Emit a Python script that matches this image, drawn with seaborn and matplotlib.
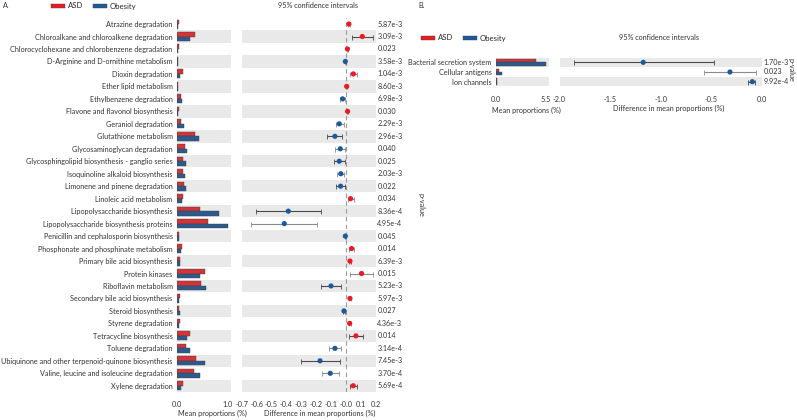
import numpy as np
import pandas as pd
import matplotlib
matplotlib.use("Agg")
import matplotlib.pyplot as plt
import seaborn as sns
from matplotlib.patches import Patch

RED = "#ec1a22"
BLUE = "#1c5a9c"
BAND = "#e9e9e9"

# panel A
pathways_a = [
    "Atrazine degradation",
    "Chloroalkane and chloroalkene degradation",
    "Chlorocyclohexane and chlorobenzene degradation",
    "D-Arginine and D-ornithine metabolism",
    "Dioxin degradation",
    "Ether lipid metabolism",
    "Ethylbenzene degradation",
    "Flavone and flavonol biosynthesis",
    "Geraniol degradation",
    "Glutathione metabolism",
    "Glycosaminoglycan degradation",
    "Glycosphingolipid biosynthesis - ganglio series",
    "Isoquinoline alkaloid biosynthesis",
    "Limonene and pinene degradation",
    "Linoleic acid metabolism",
    "Lipopolysaccharide biosynthesis",
    "Lipopolysaccharide biosynthesis proteins",
    "Penicillin and cephalosporin biosynthesis",
    "Phosphonate and phosphinate metabolism",
    "Primary bile acid biosynthesis",
    "Protein kinases",
    "Riboflavin metabolism",
    "Secondary bile acid biosynthesis",
    "Steroid biosynthesis",
    "Styrene degradation",
    "Tetracycline biosynthesis",
    "Toluene degradation",
    "Ubiquinone and other terpenoid-quinone biosynthesis",
    "Valine, leucine and isoleucine degradation",
    "Xylene degradation",
]
asd_a = [0.04, 0.35, 0.03, 0.01, 0.12, 0.01, 0.07, 0.03, 0.08, 0.35,
         0.16, 0.12, 0.12, 0.13, 0.12, 0.46, 0.61, 0.03, 0.10, 0.06,
         0.55, 0.47, 0.06, 0.04, 0.06, 0.25, 0.18, 0.38, 0.34, 0.12]
obesity_a = [0.02, 0.25, 0.02, 0.02, 0.06, 0.01, 0.10, 0.02, 0.13, 0.43,
             0.20, 0.17, 0.16, 0.17, 0.09, 0.83, 1.00, 0.04, 0.08, 0.05,
             0.46, 0.57, 0.04, 0.06, 0.04, 0.20, 0.26, 0.55, 0.45, 0.07]
diff_a = [0.020, 0.110, 0.010, -0.004, 0.050, 0.005, -0.022, 0.011, -0.045, -0.074,
          -0.038, -0.045, -0.034, -0.036, 0.031, -0.387, -0.414, -0.004, 0.038, 0.027,
          0.105, -0.100, 0.027, -0.013, 0.025, 0.067, -0.074, -0.174, -0.105, 0.049]
ci_low_a = [0.012, 0.040, 0.004, -0.008, 0.027, 0.001, -0.042, 0.005, -0.067, -0.125,
            -0.074, -0.078, -0.058, -0.069, 0.013, -0.606, -0.635, -0.008, 0.020, 0.018,
            0.027, -0.170, 0.018, -0.020, 0.018, 0.018, -0.116, -0.300, -0.161, 0.029]
ci_high_a = [0.028, 0.180, 0.016, 0.000, 0.076, 0.009, -0.007, 0.017, -0.016, -0.025,
             -0.005, -0.005, -0.011, -0.005, 0.054, -0.170, -0.193, 0.000, 0.056, 0.036,
             0.180, -0.031, 0.036, -0.006, 0.032, 0.117, -0.034, -0.042, -0.049, 0.076]
pvals_a = ["5.87e-3", "3.09e-3", "0.023", "3.58e-3", "1.04e-3", "8.60e-3", "6.98e-3",
           "0.030", "2.29e-3", "2.96e-3", "0.040", "0.025", "2.03e-3", "0.022", "0.034",
           "8.36e-4", "4.95e-4", "0.045", "0.014", "6.39e-3", "0.015", "5.23e-3",
           "5.97e-3", "0.027", "4.36e-3", "0.014", "3.14e-4", "7.45e-3", "3.70e-4",
           "5.69e-4"]

# panel B
pathways_b = ["Bacterial secretion system", "Cellular antigens", "Ion channels"]
asd_b = [4.35, 0.36, 0.10]
obesity_b = [5.55, 0.66, 0.15]
diff_b = [-1.172, -0.314, -0.093]
ci_low_b = [-1.860, -0.571, -0.133]
ci_high_b = [-0.475, -0.056, -0.063]
pvals_b = ["1.70e-3", "0.023", "9.92e-4"]

W, H = 797, 420
FS = 5.2

sns.set_theme(style="white")
plt.rcParams["font.family"] = ["Lato", "DejaVu Sans"]
plt.rcParams["axes.unicode_minus"] = False


def box(x0, y0, x1, y1):
    return [x0 / W, 1 - y1 / H, (x1 - x0) / W, (y1 - y0) / H]


def panel(fig, bar_box, ci_box, names, asd, obe, diff, lo, hi, pvals,
          bar_xmax, bar_ticks, ci_lim, ci_ticks):
    n = len(names)
    ax_bar = fig.add_axes(bar_box)
    ax_ci = fig.add_axes(ci_box)

    df = pd.DataFrame({"name": names * 2,
                       "value": list(asd) + list(obe),
                       "group": ["ASD"] * n + ["Obesity"] * n})
    sns.barplot(data=df, y="name", x="value", hue="group", ax=ax_bar,
                palette=[RED, BLUE], width=0.72, edgecolor="#404040",
                linewidth=0.3, legend=False, zorder=2)

    ypos = np.arange(n)
    for ax in (ax_bar, ax_ci):
        for i in ypos:
            if (n - 1 - i) % 2 == 0:
                ax.axhspan(i - 0.5, i + 0.5, color=BAND, lw=0, zorder=0)
        ax.set_ylim(n - 0.5, -0.5)
        for s in ax.spines.values():
            s.set_visible(False)
        ax.tick_params(axis="both", length=0, labelsize=FS, colors="#333333")
        ax.tick_params(axis="x", pad=6.5)
        ax.set_xlabel("")
        ax.set_ylabel("")

    ax_bar.set_xlim(0, bar_xmax)
    ax_bar.set_xticks(bar_ticks)
    ax_bar.set_xticklabels([f"{t:.1f}" for t in bar_ticks])
    ax_bar.tick_params(axis="y", pad=3.2)

    ax_ci.axvline(0, color="#9a9a9a", ls=(0, (4, 3)), lw=0.8, zorder=1)
    for i in ypos:
        ecol = "#4a4a4a" if (n - 1 - i) % 2 == 0 else "#8a8a8a"
        ax_ci.errorbar(diff[i], i, xerr=[[diff[i] - lo[i]], [hi[i] - diff[i]]],
                       fmt="none", ecolor=ecol, elinewidth=0.8, capsize=1.8,
                       capthick=0.6, zorder=2)
    pts = pd.DataFrame({"diff": diff, "pos": ypos,
                        "dir": ["pos" if d > 0 else "neg" for d in diff]})
    sns.scatterplot(data=pts, x="diff", y="pos", hue="dir",
                    palette={"pos": RED, "neg": BLUE}, s=14, linewidth=0,
                    legend=False, ax=ax_ci, zorder=3)
    ax_ci.set_ylim(n - 0.5, -0.5)
    ax_ci.set_xlim(*ci_lim)
    ax_ci.set_xticks(ci_ticks)
    ax_ci.set_xticklabels([f"{t:.1f}" for t in ci_ticks])
    ax_ci.set_yticks([])
    ax_ci.set_xlabel("")
    ax_ci.set_ylabel("")

    tr = ax_ci.get_yaxis_transform()
    for i, p in enumerate(pvals):
        ax_ci.text(1.012 if n > 5 else 1.01, i, p, transform=tr, ha="left",
                   va="center", fontsize=FS, color="#333333", clip_on=False)
    return ax_bar, ax_ci


fig = plt.figure(figsize=(W / 100, H / 100), dpi=100)

panel(fig, box(177, 17.8, 231, 392), box(241.7, 17.8, 375.7, 392),
      pathways_a, asd_a, obesity_a, diff_a, ci_low_a, ci_high_a, pvals_a,
      1.06, [0.0, 1.0], (-0.7, 0.2), np.round(np.arange(-0.7, 0.21, 0.1), 1))

panel(fig, box(496, 57.5, 549, 86.5), box(559.5, 57.5, 761.7, 86.5),
      pathways_b, asd_b, obesity_b, diff_b, ci_low_b, ci_high_b, pvals_b,
      5.83, [0.0, 5.5], (-2.0, 0.0), [-2.0, -1.5, -1.0, -0.5, 0.0])

txt = dict(fontsize=FS, color="#333333")


def ftext(x, y, s, **kw):
    fig.text(x / W, 1 - y / H, s, **{**txt, **kw})


ftext(3, 6, "A.", ha="left", va="center")
ftext(418, 6, "B.", ha="left", va="center")
ftext(318, 6, "95% confidence intervals", ha="center", va="center")
ftext(659, 38, "95% confidence intervals", ha="center", va="center")
ftext(212, 413, "Mean proportions (%)", ha="center", va="center")
ftext(320, 413, "Difference in mean proportions (%)", ha="center", va="center")
ftext(526, 110, "Mean proportions (%)", ha="center", va="center")
ftext(669, 108, "Difference in mean proportions (%)", ha="center", va="center")
ftext(421, 205, "p-value", ha="center", va="center", rotation=270)
ftext(791, 70, "p-value", ha="center", va="center", rotation=270)

handles = [Patch(facecolor=RED, edgecolor="#404040", lw=0.3, label="ASD"),
           Patch(facecolor=BLUE, edgecolor="#404040", lw=0.3, label="Obesity")]
for x, y in [(51, 6), (421, 38)]:
    fig.legend(handles=handles, loc="center left", bbox_to_anchor=(x / W, 1 - y / H),
               ncol=2, frameon=False, fontsize=FS + 0.4, handlelength=1.8,
               handleheight=0.5, handletextpad=0.4, columnspacing=1.2,
               borderaxespad=0, borderpad=0)

fig.savefig("out.png", dpi=100)
